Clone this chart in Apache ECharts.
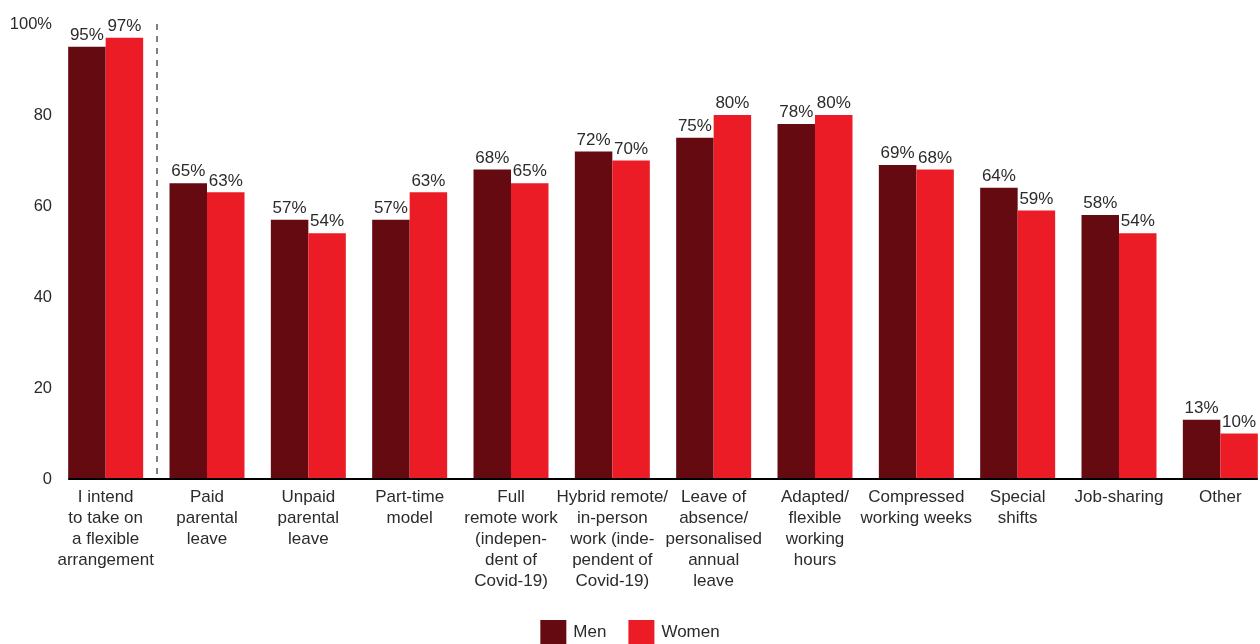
<!DOCTYPE html>
<html>
<head>
<meta charset="utf-8">
<script src="https://cdn.jsdelivr.net/npm/echarts@6/dist/echarts.min.js"></script>
<style>
  html, body { margin: 0; padding: 0; background: #fff; }
  #chart { width: 1260px; height: 644px; }
</style>
</head>
<body>
<div id="chart"></div>
<script>
// Flexible work arrangements by gender (%)
const categories = [
  'I intend\nto take on\na flexible\narrangement',
  'Paid\nparental\nleave',
  'Unpaid\nparental\nleave',
  'Part-time\nmodel',
  'Full\nremote work\n(indepen-\ndent of\nCovid-19)',
  'Hybrid remote/\nin-person\nwork (inde-\npendent of\nCovid-19)',
  'Leave of\nabsence/\npersonalised\nannual\nleave',
  'Adapted/\nflexible\nworking\nhours',
  'Compressed\nworking weeks',
  'Special\nshifts',
  'Job-sharing',
  'Other'
];
const menValues   = [95, 65, 57, 57, 68, 72, 75, 78, 69, 64, 58, 13];
const womenValues = [97, 63, 54, 63, 65, 70, 80, 80, 68, 59, 54, 10];
const yTicks = [0, 20, 40, 60, 80, 100];

const FONT = 'Liberation Sans, Arial, sans-serif';
const TEXT = '#2b2b2b';
const CAT_GAP = 0.26;          // share of each category band left empty
const n = categories.length;

const chart = echarts.init(document.getElementById('chart'), null, { renderer: 'canvas' });

const valueLabel = {
  show: true,
  position: 'top',
  distance: 3,
  formatter: p => p.value + '%',
  color: TEXT,
  fontFamily: FONT,
  fontSize: 17
};

chart.setOption({
  animation: false,
  backgroundColor: '#fff',
  grid: {
    left: 55, width: 1216, top: 24, bottom: 165,
    containLabel: false,
    outerBoundsMode: 'none'
  },
  legend: {
    top: 615,
    left: 'center',
    itemWidth: 26,
    itemHeight: 24,
    itemGap: 22,
    icon: 'rect',
    textStyle: { color: TEXT, fontFamily: FONT, fontSize: 17, padding: [0, 0, 0, 2] },
    data: ['Men', 'Women']
  },
  xAxis: [
    {
      type: 'category',
      data: categories,
      axisLine: { show: false },
      axisTick: { show: false },
      splitLine: { show: false },
      axisLabel: {
        interval: 0,
        margin: 8,
        color: TEXT,
        fontFamily: FONT,
        fontSize: 17,
        lineHeight: 21,
        align: 'center'
      }
    },
    {
      // continuous twin of the category axis (one unit per category),
      // used to place the separator and the baseline between bands
      type: 'value',
      position: 'bottom',
      min: 0,
      max: n,
      show: false
    }
  ],
  yAxis: {
    type: 'value',
    min: yTicks[0],
    max: yTicks[yTicks.length - 1],
    interval: 20,
    axisLine: { show: false },
    axisTick: { show: false },
    splitLine: { show: false },
    axisLabel: {
      margin: 3,
      color: TEXT,
      fontFamily: FONT,
      fontSize: 16.5,
      padding: [0, 0, 5, 0],
      formatter: v => (v === 100 ? v + '%' : String(v))
    }
  },
  series: [
    {
      name: 'Men',
      type: 'bar',
      data: menValues,
      barGap: '0%',
      barCategoryGap: (CAT_GAP * 100) + '%',
      itemStyle: { color: '#650a10' },
      label: valueLabel
    },
    {
      name: 'Women',
      type: 'bar',
      data: womenValues,
      barGap: '0%',
      barCategoryGap: (CAT_GAP * 100) + '%',
      itemStyle: { color: '#ec1c26' },
      label: valueLabel
    },
    {
      name: 'guides',
      type: 'scatter',
      xAxisIndex: 1,
      data: [],
      silent: true,
      markLine: {
        silent: true,
        symbol: 'none',
        label: { show: false },
        animation: false,
        data: [
          // dashed separator after the first category
          [
            { coord: [1, 100], lineStyle: { color: '#555', width: 1.5, type: [6, 6] } },
            { coord: [1, 0] }
          ],
          // baseline running from the first bar to the last bar
          [
            { coord: [CAT_GAP / 2, 0], lineStyle: { color: '#000', width: 2, type: 'solid' } },
            { coord: [n - CAT_GAP / 2, 0] }
          ]
        ]
      }
    }
  ]
});
</script>
</body>
</html>
